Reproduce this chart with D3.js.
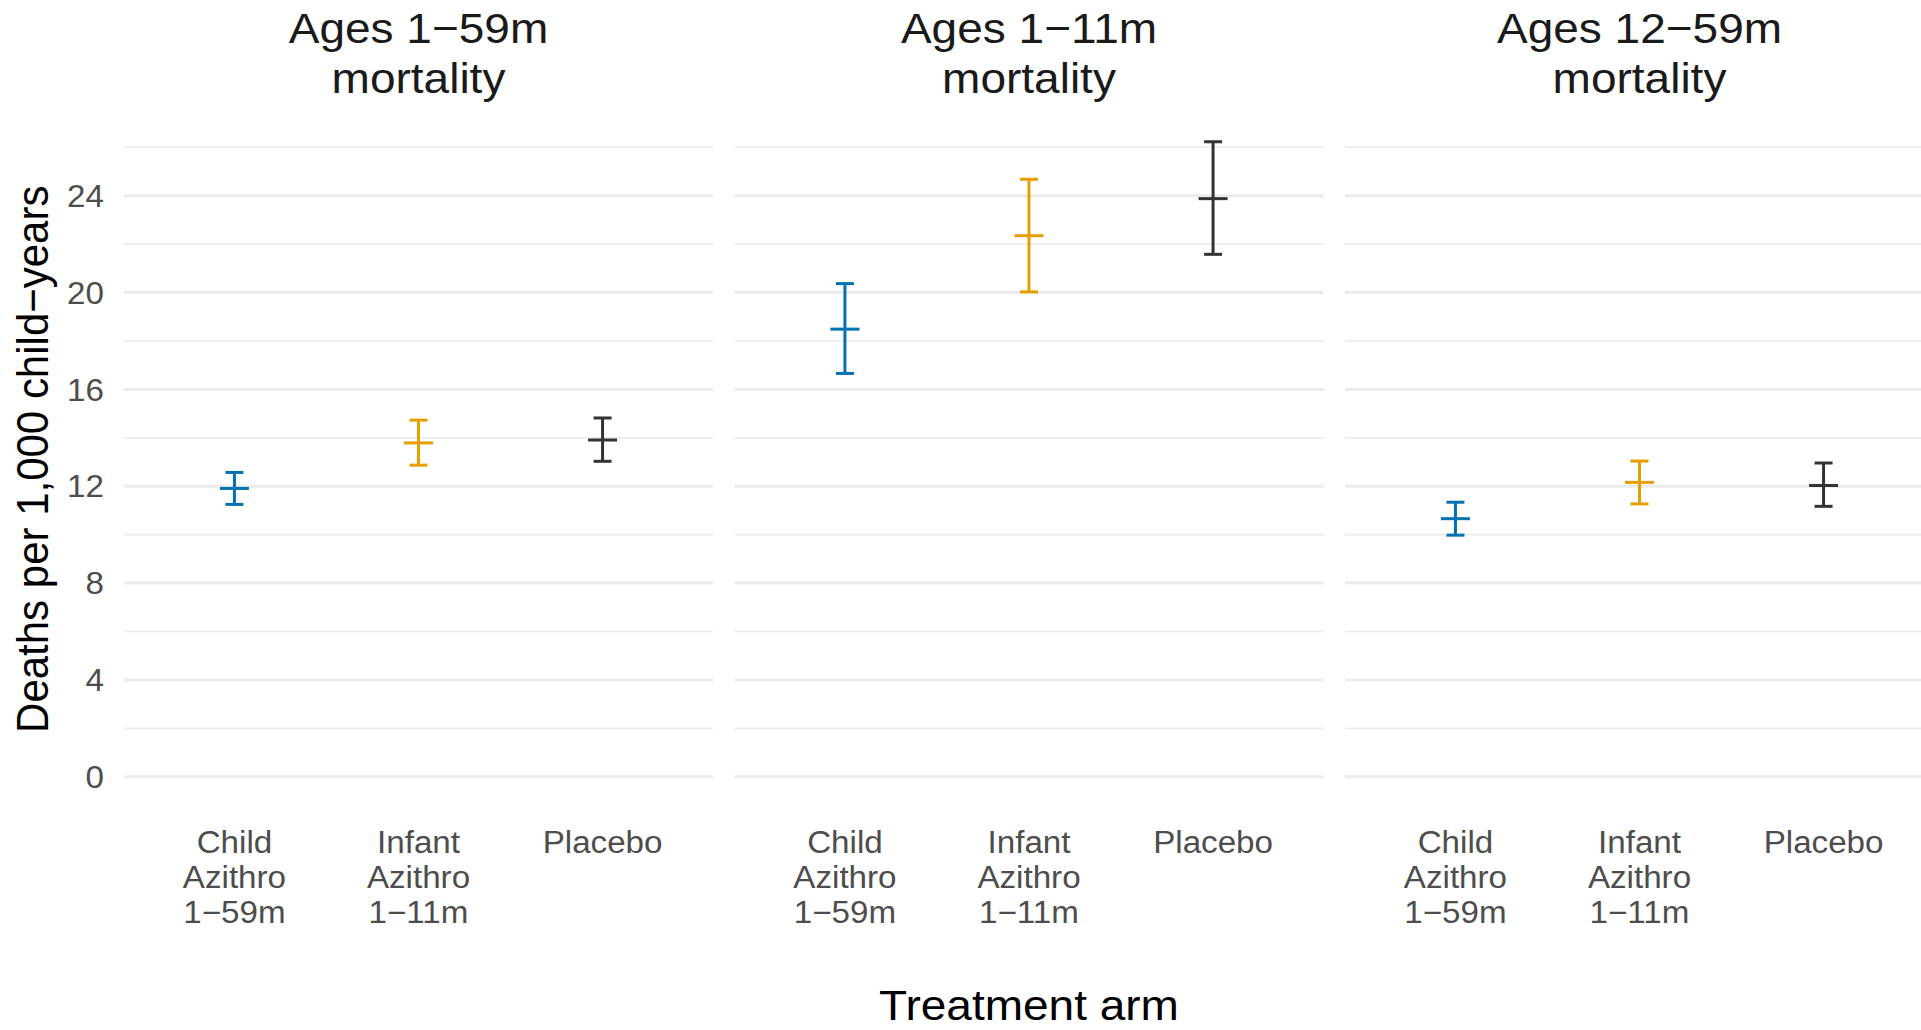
<!DOCTYPE html>
<html>
<head>
<meta charset="utf-8">
<script src="https://cdn.jsdelivr.net/npm/d3@7"></script>
<style>
  html, body { margin: 0; padding: 0; background: #ffffff; }
  svg { display: block; }
  text { font-family: "Liberation Sans", Arial, Helvetica, sans-serif; }
</style>
</head>
<body>
<svg id="chart" width="1921" height="1030"></svg>
<script>
// Facet strips (two lines each)
const panelTitles = [
  ["Ages 1\u221259m", "mortality"],
  ["Ages 1\u221211m", "mortality"],
  ["Ages 12\u221259m", "mortality"]
];

// Treatment arms and their axis labels
const arms = ["Child Azithro 1\u221259m", "Infant Azithro 1\u221211m", "Placebo"];
const armLabels = [
  ["Child", "Azithro", "1\u221259m"],
  ["Infant", "Azithro", "1\u221211m"],
  ["Placebo"]
];
const armColors = ["#0072B2", "#E69F00", "#333333"];

// Mortality rate (deaths per 1,000 child-years) with 95% interval, one row per panel
const estimate = [
  [11.91, 13.79, 13.91],
  [18.49, 22.35, 23.88],
  [10.66, 12.16, 12.03]
];
const lower = [
  [11.25, 12.87, 13.03],
  [16.66, 20.03, 21.58],
  [ 9.98, 11.27, 11.17]
];
const upper = [
  [12.57, 14.73, 14.82],
  [20.37, 24.68, 26.23],
  [11.34, 13.04, 12.96]
];

const yTicks = [0, 4, 8, 12, 16, 20, 24];
const yMinorTicks = [2, 6, 10, 14, 18, 22, 26];

const yTitle = "Deaths per 1,000 child\u2212years";
const xTitle = "Treatment arm";

// ---- layout ----
const svg = d3.select("#chart");
const panelLeft = 124, panelWidth = 589, panelGap = 21.5;
const panelTop = 110, panelBottom = 808.5;
const textStretch = 1.07;   // slightly wide glyphs

// y: include zero, 5% expansion on both ends
const allHi = d3.max(upper.flat());
const yLo = 0, span = allHi - yLo;
const y = d3.scaleLinear()
  .domain([yLo - 0.05 * span, allHi + 0.05 * span])
  .range([panelBottom, panelTop]);

const x = d3.scalePoint().domain(arms).range([0, panelWidth]).padding(0.6);

const gridColor = "#ebebeb";

function stretchedText(g, lines, opts) {
  const t = g.append("text")
    .attr("transform", `translate(${opts.x},${opts.y}) scale(${textStretch},1)`)
    .attr("text-anchor", opts.anchor || "middle")
    .attr("font-size", opts.size)
    .attr("fill", opts.fill);
  lines.forEach((ln, i) => {
    t.append("tspan").attr("x", 0).attr("y", i * opts.lineStep).text(ln);
  });
  return t;
}

panelTitles.forEach((title, p) => {
  const x0 = panelLeft + p * (panelWidth + panelGap);
  const g = svg.append("g").attr("transform", `translate(${x0},0)`);

  // minor then major horizontal grid lines
  g.append("g").selectAll("line").data(yMinorTicks.filter(v => v <= y.domain()[1]))
    .join("line")
    .attr("x1", 0).attr("x2", panelWidth)
    .attr("y1", d => y(d)).attr("y2", d => y(d))
    .attr("stroke", gridColor).attr("stroke-width", 1.6);
  g.append("g").selectAll("line").data(yTicks)
    .join("line")
    .attr("x1", 0).attr("x2", panelWidth)
    .attr("y1", d => y(d)).attr("y2", d => y(d))
    .attr("stroke", gridColor).attr("stroke-width", 3);

  // strip title
  stretchedText(g, title, {
    x: panelWidth / 2, y: 43, size: 43, fill: "#1a1a1a", lineStep: 50
  });

  // x tick labels
  arms.forEach((a, i) => {
    stretchedText(g, armLabels[i], {
      x: x(a), y: 853, size: 31, fill: "#4d4d4d", lineStep: 35
    });
  });

  // error bars with a horizontal tick at the estimate
  const rows = arms.map((a, i) => ({
    arm: a, color: armColors[i],
    est: estimate[p][i], lo: lower[p][i], hi: upper[p][i]
  }));
  const capHalf = 9, midHalf = 14.5;
  const eb = g.append("g").selectAll("g").data(rows).join("g")
    .attr("stroke", d => d.color).attr("stroke-width", 3).attr("fill", "none");
  eb.append("line")
    .attr("x1", d => x(d.arm)).attr("x2", d => x(d.arm))
    .attr("y1", d => y(d.lo)).attr("y2", d => y(d.hi));
  eb.append("line")
    .attr("x1", d => x(d.arm) - capHalf).attr("x2", d => x(d.arm) + capHalf)
    .attr("y1", d => y(d.hi)).attr("y2", d => y(d.hi));
  eb.append("line")
    .attr("x1", d => x(d.arm) - capHalf).attr("x2", d => x(d.arm) + capHalf)
    .attr("y1", d => y(d.lo)).attr("y2", d => y(d.lo));
  eb.append("line")
    .attr("x1", d => x(d.arm) - midHalf).attr("x2", d => x(d.arm) + midHalf)
    .attr("y1", d => y(d.est)).attr("y2", d => y(d.est));
});

// y axis tick labels (left panel only)
const yAxis = d3.axisLeft(y).tickValues(yTicks).tickSize(0).tickPadding(0).tickFormat(d3.format("d"));
const yg = svg.append("g").attr("transform", "translate(104,0)").call(yAxis);
yg.select(".domain").remove();
yg.selectAll(".tick")
  .attr("transform", d => `translate(0,${y(d)}) scale(${textStretch},1)`);
yg.selectAll("text")
  .attr("font-size", 31)
  .attr("fill", "#4d4d4d")
  .attr("font-family", "Liberation Sans, Arial, sans-serif")
  .attr("x", 0)
  .attr("dy", "0.36em");

// axis titles
const plotRight = panelLeft + 3 * panelWidth + 2 * panelGap;
svg.append("text")
  .attr("transform", `translate(${(panelLeft + plotRight) / 2},1020) scale(${textStretch},1)`)
  .attr("text-anchor", "middle")
  .attr("font-size", 43)
  .attr("fill", "#000000")
  .text(xTitle);

svg.append("text")
  .attr("transform", `translate(48,${(panelTop + panelBottom) / 2}) scale(${textStretch},1) rotate(-90)`)
  .attr("text-anchor", "middle")
  .attr("font-size", 42)
  .attr("fill", "#000000")
  .text(yTitle);
</script>
</body>
</html>
